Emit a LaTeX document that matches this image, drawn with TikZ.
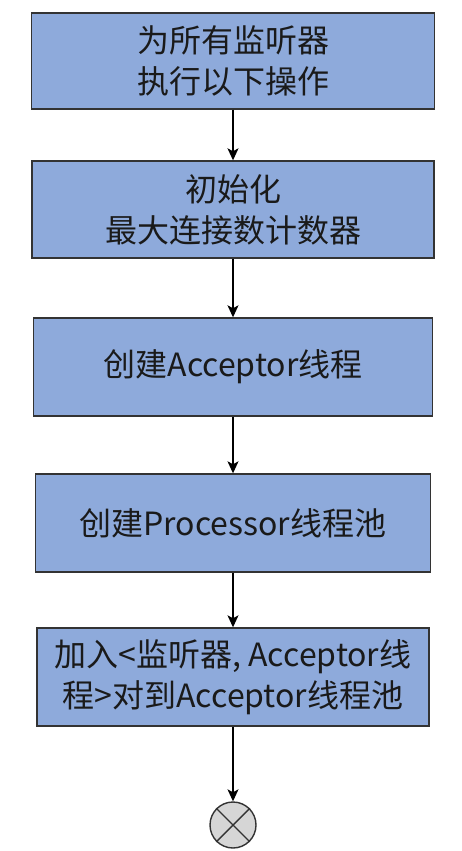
\documentclass[tikz,border=0pt]{standalone}
\usepackage{fontspec}
\setmainfont{Noto Sans CJK SC}
\newfontfamily\cjk{Noto Sans CJK SC}
\usetikzlibrary{arrows.meta}
\definecolor{boxfill}{HTML}{8EAADB}
\definecolor{boxline}{HTML}{333333}
\definecolor{txt}{HTML}{1A1A1A}
\definecolor{endfill}{HTML}{D6D6D6}
\tikzset{
  stepbox/.style={draw=boxline, line width=1.4pt, fill=boxfill, rectangle,
    align=center, text=txt, inner sep=0pt,
    font=\cjk\fontsize{32}{41}\selectfont},
  flow/.style={draw=black, line width=1.3pt, -{Stealth[length=12pt,width=11pt,inset=3pt]}},
  endnode/.style={draw=boxline, line width=1.4pt, fill=endfill, circle, minimum size=46pt, inner sep=0pt}
}
\begin{document}
\begin{tikzpicture}[x=1pt,y=-1pt]
\useasboundingbox (0,0) rectangle (461,851);
\node[stepbox, minimum width=403pt, minimum height=96pt] (b1) at (233,61) {为所有监听器\\执行以下操作};
\node[stepbox, minimum width=402pt, minimum height=97pt] (b2) at (233,209.5) {初始化\\最大连接数计数器};
\node[stepbox, minimum width=399pt, minimum height=98pt] (b3) at (233,367) {创建Acceptor线程};
\node[stepbox, minimum width=395pt, minimum height=98pt] (b4) at (233,523) {创建Processor线程池};
\node[stepbox, minimum width=392pt, minimum height=98pt] (b5) at (233,677) {加入<监听器, Acceptor线\\程>对到Acceptor线程池};
\node[endnode] (end) at (233,825) {};
\draw[boxline, line width=1.4pt] (end.45) -- (end.225);
\draw[boxline, line width=1.4pt] (end.135) -- (end.315);
\draw[flow] (b1) -- (b2);
\draw[flow] (b2) -- (b3);
\draw[flow] (b3) -- (b4);
\draw[flow] (b4) -- (b5);
\draw[flow] (b5) -- (end);
\end{tikzpicture}
\end{document}
